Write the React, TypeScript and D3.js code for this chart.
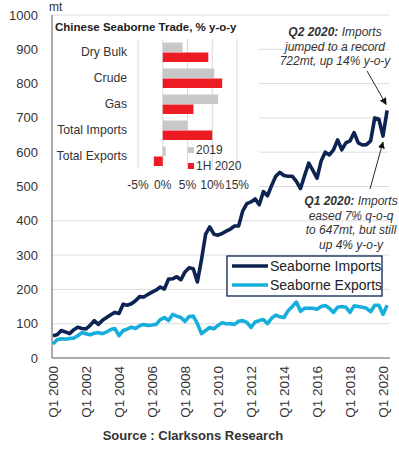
import { useEffect, useRef } from 'react'
import * as d3 from 'd3'

// quarterly, Q1 2000 .. Q2 2020 (mt)
const importsMt = [
  65, 68, 80, 76, 71, 82, 90, 86, 85, 95, 109, 98,
  110, 118, 126, 133, 130, 157, 154, 158, 167, 179, 178, 185,
  192, 198, 207, 201, 230, 231, 237, 228, 251, 263, 260, 222,
  287, 361, 382, 361, 358, 363, 370, 376, 385, 385, 429, 450,
  455, 464, 447, 485, 473, 503, 530, 541, 532, 530, 530, 515,
  494, 532, 568, 547, 524, 574, 600, 592, 607, 636, 607, 627,
  633, 657, 627, 621, 622, 633, 700, 696, 647, 722,
]
const exportsMt = [
  41, 53, 56, 55, 57, 58, 65, 74, 71, 68, 72, 74,
  71, 76, 83, 86, 65, 80, 84, 90, 86, 94, 98, 95,
  96, 98, 112, 118, 109, 127, 122, 118, 107, 121, 122, 100,
  71, 80, 89, 85, 95, 103, 100, 100, 98, 107, 109, 104,
  89, 105, 109, 112, 100, 116, 125, 120, 118, 138, 150, 163,
  136, 145, 145, 145, 142, 150, 153, 145, 133, 148, 150, 148,
  133, 152, 150, 148, 145, 135, 154, 154, 127, 154,
]
const yTicks = [0, 100, 200, 300, 400, 500, 600, 700, 800, 900, 1000]
const xTickYears = [2000, 2002, 2004, 2006, 2008, 2010, 2012, 2014, 2016, 2018, 2020]

// inset: % y-o-y
const insetCats = ['Dry Bulk', 'Crude', 'Gas', 'Total Imports', 'Total Exports']
const growth2019 = [4, 10.4, 11.2, 5, 0.6]
const growth1H2020 = [9.2, 12, 6.2, 10, -1.8]
const insetTicks = [-5, 0, 5, 10, 15]

const NAVY = '#0d2352'
const CYAN = '#17aedc'
const FONT = 'Liberation Sans, Arial, sans-serif'
const TXT = '#333'

export default function App() {
  const svgRef = useRef<SVGSVGElement>(null)

  useEffect(() => {
    if (!svgRef.current) return
    const svg = d3.select(svgRef.current)
    svg.selectAll('*').remove()

    const left = 52, right = 389, top = 15, bottom = 358

    const x = d3.scaleLinear().domain([0, 80]).range([left + 1, 383])
    const y = d3.scaleLinear().domain([0, 1000]).range([bottom, top])

    const g = svg.append('g').attr('font-family', FONT)

    // gridlines
    g.selectAll('.grid')
      .data(yTicks.filter(d => d > 0))
      .enter()
      .append('line')
      .attr('x1', left)
      .attr('x2', right)
      .attr('y1', d => y(d))
      .attr('y2', d => y(d))
      .attr('stroke', '#dcdcdc')
      .attr('stroke-width', 1)

    // y tick labels
    g.selectAll('.ylab')
      .data(yTicks)
      .enter()
      .append('text')
      .attr('x', 38)
      .attr('y', d => y(d))
      .attr('dy', '0.35em')
      .attr('text-anchor', 'end')
      .attr('font-size', '13px')
      .attr('fill', TXT)
      .text(d => d)

    g.append('text')
      .attr('x', 49)
      .attr('y', 11)
      .attr('font-size', '12px')
      .attr('fill', TXT)
      .text('mt')

    // x tick labels (rotated)
    g.selectAll('.xlab')
      .data(xTickYears)
      .enter()
      .append('text')
      .attr('transform', d => `translate(${x((d - 2000) * 4)},366) rotate(-90)`)
      .attr('dy', '0.35em')
      .attr('text-anchor', 'end')
      .attr('font-size', '13.5px')
      .attr('fill', TXT)
      .text(d => `Q1 ${d}`)

    // axes
    g.append('line')
      .attr('x1', left).attr('x2', left)
      .attr('y1', top).attr('y2', bottom)
      .attr('stroke', '#595959').attr('stroke-width', 1)
    g.append('line')
      .attr('x1', left).attr('x2', right + 1)
      .attr('y1', bottom).attr('y2', bottom)
      .attr('stroke', '#595959').attr('stroke-width', 1)

    // lines
    const line = d3.line<number>()
      .x((_, i) => x(i))
      .y(d => y(d))
      .curve(d3.curveLinear)

    g.append('path')
      .datum(exportsMt)
      .attr('d', line)
      .attr('fill', 'none')
      .attr('stroke', CYAN)
      .attr('stroke-width', 3.6)
      .attr('stroke-linejoin', 'round')

    g.append('path')
      .datum(importsMt)
      .attr('d', line)
      .attr('fill', 'none')
      .attr('stroke', NAVY)
      .attr('stroke-width', 3.6)
      .attr('stroke-linejoin', 'round')

    // inset panel
    const inset = g.append('g')
    inset.append('rect')
      .attr('x', left + 1)
      .attr('y', top + 1)
      .attr('width', 206)
      .attr('height', 178)
      .attr('fill', '#fff')

    inset.append('text')
      .attr('x', 55)
      .attr('y', 31)
      .attr('font-size', '11.5px')
      .attr('font-weight', 'bold')
      .attr('fill', '#222')
      .text('Chinese Seaborne Trade, % y-o-y')

    const ix = d3.scaleLinear().domain([-5, 15]).range([138, 237])
    const iy = d3.scaleBand().domain(insetCats).range([39, 169])

    inset.selectAll('.igrid')
      .data(insetTicks)
      .enter()
      .append('line')
      .attr('x1', d => ix(d))
      .attr('x2', d => ix(d))
      .attr('y1', 39)
      .attr('y2', 169)
      .attr('stroke', '#d9d9d9')
      .attr('stroke-width', 1)

    inset.selectAll('.ilab')
      .data(insetTicks)
      .enter()
      .append('text')
      .attr('x', d => ix(d))
      .attr('y', 185)
      .attr('dy', '0.35em')
      .attr('text-anchor', 'middle')
      .attr('font-size', '12px')
      .attr('fill', TXT)
      .text(d => `${d}%`)

    const barH = 9.5
    inset.selectAll('.b19')
      .data(growth2019)
      .enter()
      .append('rect')
      .attr('x', d => ix(Math.min(0, d)))
      .attr('y', (_, i) => iy(insetCats[i])! + iy.bandwidth() / 2 - barH)
      .attr('width', d => Math.abs(ix(d) - ix(0)))
      .attr('height', barH)
      .attr('fill', '#c8c8c8')

    inset.selectAll('.b20')
      .data(growth1H2020)
      .enter()
      .append('rect')
      .attr('x', d => ix(Math.min(0, d)))
      .attr('y', (_, i) => iy(insetCats[i])! + iy.bandwidth() / 2 + 0.5)
      .attr('width', d => Math.abs(ix(d) - ix(0)))
      .attr('height', barH)
      .attr('fill', '#ed1c24')

    inset.selectAll('.icat')
      .data(insetCats)
      .enter()
      .append('text')
      .attr('x', 127)
      .attr('y', d => iy(d)! + iy.bandwidth() / 2)
      .attr('dy', '0.35em')
      .attr('text-anchor', 'end')
      .attr('font-size', '12.2px')
      .attr('fill', TXT)
      .text(d => d)

    // inset legend
    const ileg = [
      { label: '2019', color: '#c8c8c8', y: 150 },
      { label: '1H 2020', color: '#ed1c24', y: 166 },
    ]
    ileg.forEach(l => {
      inset.append('rect')
        .attr('x', 188).attr('y', l.y - 3)
        .attr('width', 6).attr('height', 6)
        .attr('fill', l.color)
      inset.append('text')
        .attr('x', 196).attr('y', l.y)
        .attr('dy', '0.35em')
        .attr('font-size', '12px')
        .attr('fill', TXT)
        .text(l.label)
    })

    // main legend
    const leg = g.append('g')
    leg.append('rect')
      .attr('x', 227).attr('y', 256)
      .attr('width', 155).attr('height', 40)
      .attr('fill', '#fff')
      .attr('stroke', NAVY)
      .attr('stroke-width', 1.3)
    const mleg = [
      { label: 'Seaborne Imports', color: NAVY, y: 266 },
      { label: 'Seaborne Exports', color: CYAN, y: 285 },
    ]
    mleg.forEach(l => {
      leg.append('line')
        .attr('x1', 232).attr('x2', 268)
        .attr('y1', l.y).attr('y2', l.y)
        .attr('stroke', l.color)
        .attr('stroke-width', 3.6)
      leg.append('text')
        .attr('x', 270).attr('y', l.y)
        .attr('dy', '0.35em')
        .attr('font-size', '14px')
        .attr('fill', '#222')
        .text(l.label)
    })

    // annotations
    const defs = svg.append('defs')
    defs.append('marker')
      .attr('id', 'arrow')
      .attr('viewBox', '0 0 10 10')
      .attr('refX', 9).attr('refY', 5)
      .attr('markerWidth', 7).attr('markerHeight', 7)
      .attr('markerUnits', 'userSpaceOnUse')
      .attr('orient', 'auto')
      .append('path')
      .attr('d', 'M0,0 L10,5 L0,10 Z')
      .attr('fill', '#111')

    const note = (cx: number, y0: number, lines: string[], head: string) => {
      const t = g.append('text')
        .attr('text-anchor', 'middle')
        .attr('font-size', '12px')
        .attr('font-style', 'italic')
        .attr('fill', TXT)
      lines.forEach((ln, i) => {
        const ts = t.append('tspan').attr('x', cx).attr('y', y0 + i * 14.6)
        if (i === 0) {
          ts.append('tspan').attr('font-weight', 'bold').text(head)
          ts.append('tspan').text(ln)
        } else {
          ts.text(ln)
        }
      })
    }

    note(335, 36, [' Imports', 'jumped to a record', '722mt, up 14% y-o-y'], 'Q2 2020:')
    note(351, 205, [' Imports', 'eased 7% q-o-q', 'to 647mt, but still', 'up 4% y-o-y'], 'Q1 2020:')

    g.append('line')
      .attr('x1', 367).attr('y1', 71)
      .attr('x2', x(81) - 1).attr('y2', y(722) - 6)
      .attr('stroke', '#111').attr('stroke-width', 0.9)
      .attr('marker-end', 'url(#arrow)')
    g.append('line')
      .attr('x1', 370).attr('y1', 189)
      .attr('x2', x(80)).attr('y2', y(647) + 6)
      .attr('stroke', '#111').attr('stroke-width', 0.9)
      .attr('marker-end', 'url(#arrow)')

    // source
    g.append('text')
      .attr('x', 193)
      .attr('y', 440)
      .attr('text-anchor', 'middle')
      .attr('font-size', '13px')
      .attr('font-weight', 'bold')
      .attr('fill', TXT)
      .text('Source : Clarksons Research')
  }, [])

  return (
    <svg
      ref={svgRef}
      width={399}
      height={452}
      style={{ position: 'absolute', left: 0, top: 0, background: '#fff' }}
    />
  )
}
